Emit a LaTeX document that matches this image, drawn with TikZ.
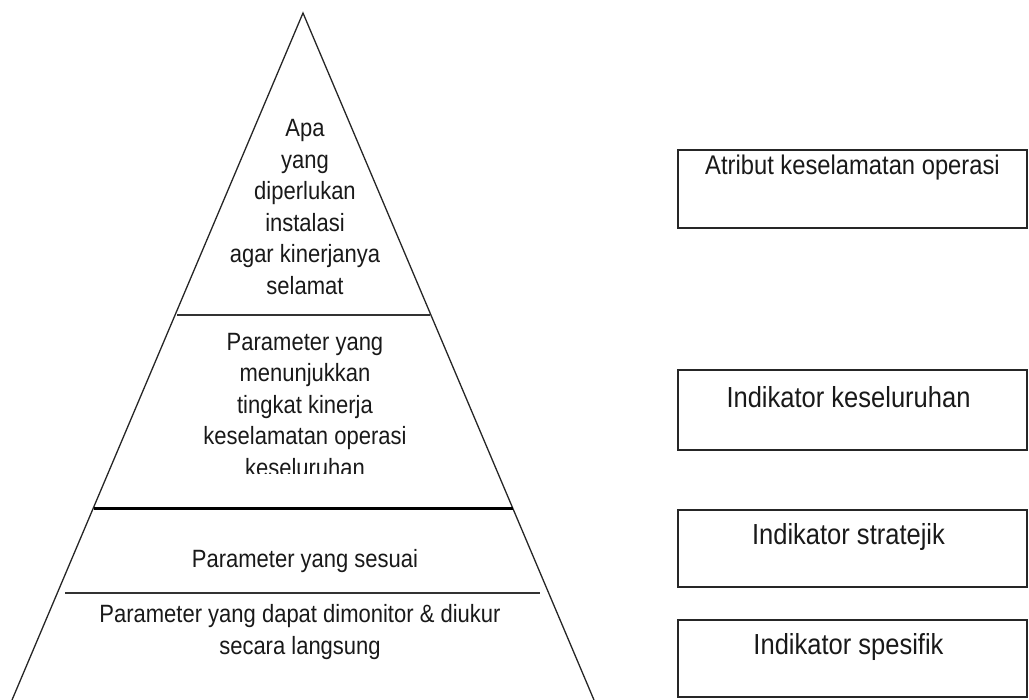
\documentclass[tikz,border=0pt]{standalone}
\usepackage{fontspec}
\setmainfont{Liberation Sans}
\newfontfamily\pyrfont[FakeStretch=0.88]{Liberation Sans}
\newfontfamily\boxfont[FakeStretch=0.88]{Liberation Sans}
\usetikzlibrary{calc}
\begin{document}
\begin{tikzpicture}[x=1pt,y=-1pt,
  side/.style={line width=1.3pt,black!85},
  sep/.style={line width=1.4pt,black!80},
  thicksep/.style={line width=3pt,black},
  pyrtext/.style={font=\pyrfont\fontsize{25}{31.5}\selectfont,align=center,inner sep=0pt,text=black!90},
  boxframe/.style={draw=black!85,line width=1.4pt,minimum width=349pt,anchor=north west,inner sep=0pt,outer sep=0pt},
  boxtext/.style={font=\boxfont\fontsize{29}{30}\selectfont,inner sep=0pt,text=black!90}]
\useasboundingbox (0,0) rectangle (1029,700);
% pyramid
\coordinate (apex) at (303,13);
\coordinate (bl) at (12,700);
\coordinate (br) at (594,700);
\draw[side] (bl) -- (apex) -- (br);
\coordinate (l1a) at (177,315);
\coordinate (l1b) at (430,315);
\coordinate (l2a) at (94,509);
\coordinate (l2b) at (513,509);
\coordinate (l3a) at (65,593);
\coordinate (l3b) at (540,593);
\draw[sep] (l1a) -- (l1b);
\draw[thicksep] (l2a) -- (l2b);
\draw[sep] (l3a) -- (l3b);
% pyramid texts
\node[pyrtext] (t1) at (305,207) {Apa\\yang\\diperlukan\\instalasi\\agar kinerjanya\\selamat};
\begin{scope}
\clip (0,320) rectangle (1029,474);
\node[pyrtext] (t2) at (305,405) {Parameter yang\\menunjukkan\\tingkat kinerja\\keselamatan operasi\\keseluruhan};
\end{scope}
\node[pyrtext] (t3) at (305,561) {Parameter yang sesuai};
\node[pyrtext] (t4) at (300,632) {Parameter yang dapat dimonitor \& diukur\\secara langsung};
% boxes
\node[boxframe,minimum height=78pt] (b1) at (678,150) {};
\node[boxframe,minimum height=80pt] (b2) at (678,370) {};
\node[boxframe,minimum height=77pt] (b3) at (678,510) {};
\node[boxframe,minimum height=77pt] (b4) at (678,620) {};
\node[boxtext,font=\boxfont\fontsize{27}{30}\selectfont] (bt1) at ($(b1.north)+(0,18)$) {Atribut keselamatan operasi};
\node[boxtext] (bt2) at ($(b2.north)+(-4,27)$) {Indikator keseluruhan};
\node[boxtext] (bt3) at ($(b3.north)+(-4,27)$) {Indikator stratejik};
\node[boxtext] (bt4) at ($(b4.north)+(-4,27)$) {Indikator spesifik};
\end{tikzpicture}
\end{document}
